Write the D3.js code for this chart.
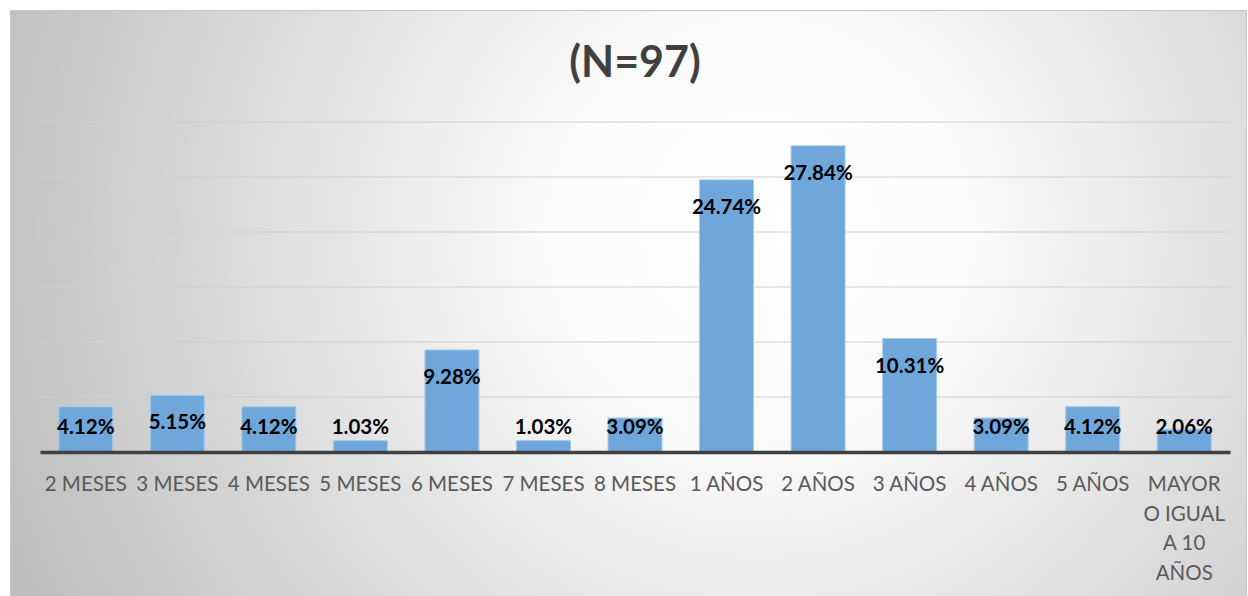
<!DOCTYPE html>
<html><head><meta charset="utf-8">
<script src="https://cdn.jsdelivr.net/npm/d3@7"></script>
<style>html,body{margin:0;padding:0;background:#fff;}svg{display:block;}</style>
</head><body>
<script>
const categories = ["2 MESES","3 MESES","4 MESES","5 MESES","6 MESES","7 MESES","8 MESES","1 AÑOS","2 AÑOS","3 AÑOS","4 AÑOS","5 AÑOS","MAYOR O IGUAL A 10 AÑOS"];
const values = [4.12,5.15,4.12,1.03,9.28,1.03,3.09,24.74,27.84,10.31,3.09,4.12,2.06];
const yTicks = [0,5,10,15,20,25,30];
const title = "(N=97)";

const W = 1248, H = 596;
const svg = d3.select("body").append("svg").attr("width", W).attr("height", H);
const defs = svg.append("defs");
const grad = defs.append("radialGradient").attr("id","bg").attr("gradientUnits","userSpaceOnUse")
  .attr("cx",760).attr("cy",230).attr("r",820);
grad.append("stop").attr("offset","0%").attr("stop-color","#ffffff");
grad.append("stop").attr("offset","25%").attr("stop-color","#fbfbfb");
grad.append("stop").attr("offset","100%").attr("stop-color","#bdbdbd");

svg.append("rect").attr("x",10.5).attr("y",10.5).attr("width",1236).attr("height",600)
  .attr("fill","url(#bg)").attr("stroke","#c6c6c6").attr("stroke-width",1);

const x = d3.scaleBand().domain(categories).range([40,1230]).paddingInner(0.41).paddingOuter(0.205);
const y = d3.scaleLinear().domain([0,30]).range([452,122]);

svg.append("text").attr("x",635).attr("y",77).attr("text-anchor","middle")
  .attr("font-family","Lato, 'Open Sans', sans-serif").attr("font-weight","bold")
  .attr("font-size",43).attr("fill","#404040").text(title);

const grid = svg.append("g");
grid.selectAll("line").data(yTicks.filter(d=>d>0)).join("line")
  .attr("x1",40).attr("x2",1230).attr("y1",d=>y(d)).attr("y2",d=>y(d))
  .attr("stroke","#d0d0d0").attr("stroke-width",1.2);

svg.append("g").selectAll("rect").data(values).join("rect")
  .attr("x",(d,i)=>x(categories[i])).attr("width",x.bandwidth())
  .attr("y",d=>y(d)).attr("height",d=>y(0)-y(d))
  .attr("fill","#6fa7da").attr("stroke","#a9cbeb").attr("stroke-width",1);

// axis
const xAxis = d3.axisBottom(x).tickSize(0).tickPadding(0);
const ax = svg.append("g").attr("transform","translate(0,452)").call(xAxis);
ax.select(".domain").attr("stroke","#404040").attr("stroke-width",3.5);
ax.selectAll(".tick text").remove();
ax.selectAll(".tick").each(function(d){
  const g = d3.select(this);
  const lines = d.startsWith("MAYOR") ? ["MAYOR","O IGUAL","A 10","AÑOS"] : [d];
  const t = g.append("text").attr("text-anchor","middle").attr("fill","#595959")
    .attr("font-family","Lato, 'Open Sans', sans-serif").attr("font-size",20.5);
  lines.forEach((l,i)=>t.append("tspan").attr("x",0).attr("y",39+i*29.5).text(l));
});

svg.append("g").selectAll("text").data(values).join("text")
  .attr("x",(d,i)=>x(categories[i])+x.bandwidth()/2)
  .attr("y",d=>Math.min(y(d)+27, 427)+7)
  .attr("text-anchor","middle").attr("font-family","Lato, 'Open Sans', sans-serif")
  .attr("font-weight","bold").attr("font-size",20.5).attr("fill","#000")
  .text(d=>d.toFixed(2)+"%");
</script>
</body></html>
